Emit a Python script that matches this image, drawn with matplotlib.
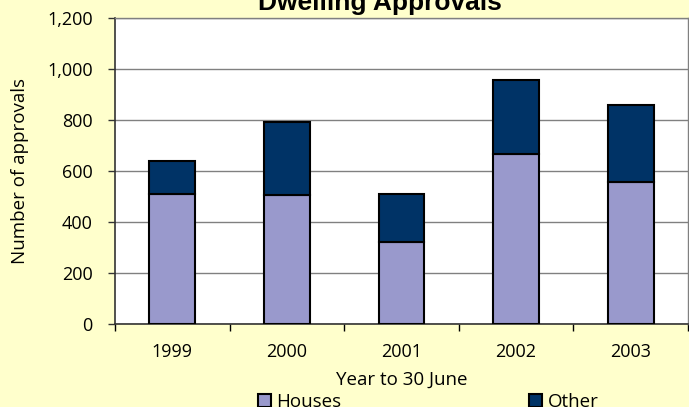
import matplotlib.pyplot as plt
import numpy as np

years = ['1999', '2000', '2001', '2002', '2003']
houses = [510, 507, 320, 665, 558]
other = [128, 286, 188, 292, 302]

c_houses = '#9999CC'
c_other = '#003366'
bg = '#FFFFCC'

plt.rcParams['font.family'] = ['Open Sans', 'DejaVu Sans']
fs = 13

fig = plt.figure(figsize=(6.89, 4.07), dpi=100, facecolor=bg)
ax = fig.add_axes([115 / 689, 83 / 407, 573 / 689, 306 / 407])
ax.set_facecolor('white')

x = np.arange(len(years))
w = 0.40
b1 = ax.bar(x, houses, w, color=c_houses, edgecolor='black', linewidth=1.5, zorder=3, label='Houses')
b2 = ax.bar(x, other, w, bottom=houses, color=c_other, edgecolor='black', linewidth=1.5, zorder=3, label='Other')

ax.set_xlim(-0.5, len(years) - 0.5)
ax.set_ylim(0, 1200)
ax.set_yticks(np.arange(0, 1201, 200))
ax.set_yticklabels(['{:,}'.format(v) for v in range(0, 1201, 200)], fontsize=fs)
ax.yaxis.grid(True, color='#808080', linewidth=1, zorder=0)

ax.set_xticks(x)
ax.set_xticklabels(years, fontsize=fs)
ax.set_xticks(np.arange(-0.5, len(years)), minor=True)
ax.tick_params(axis='x', which='major', length=0, pad=14)
ax.tick_params(axis='x', which='minor', length=5, width=1, color='black', direction='out')
ax.tick_params(axis='y', length=5, width=1, color='#333333', direction='out', pad=11)

for s in ['left', 'bottom']:
    ax.spines[s].set_color('#333333')
    ax.spines[s].set_linewidth(1.2)
for s in ['top', 'right']:
    ax.spines[s].set_color('#808080')
    ax.spines[s].set_linewidth(1)

ax.set_xlabel('Year to 30 June', fontsize=13.5, labelpad=7)
ax.set_ylabel('Number of approvals', fontsize=13.5, labelpad=13)

# title sits partly above the figure edge, as in the original
fig.text(380 / 689, 1 - 10 / 407, 'Dwelling Approvals', ha='center', va='baseline',
         fontsize=19, fontweight='bold', family='Liberation Sans')

fig.legend(handles=[b1, b2], labels=['Houses', 'Other'], loc='center',
           bbox_to_anchor=(428 / 689, 1 - 402 / 407), ncol=2, frameon=False,
           fontsize=13.5, handlelength=0.7, handleheight=0.7, handletextpad=0.3,
           columnspacing=10, borderpad=0)

plt.savefig('out.png', dpi=100, facecolor=bg)
